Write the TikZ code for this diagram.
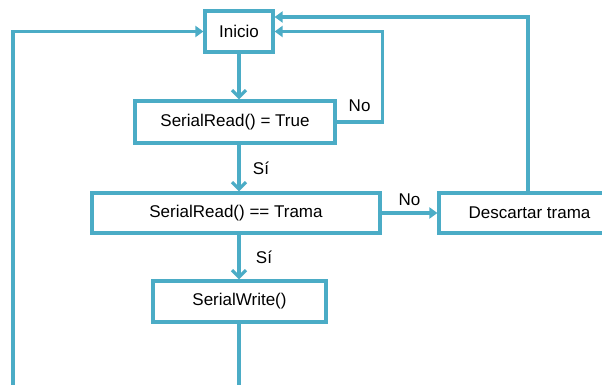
\documentclass[tikz,border=0pt]{standalone}
\usepackage{fontspec}
\setmainfont{Liberation Sans}
\usetikzlibrary{arrows.meta}
\definecolor{flujo}{HTML}{4BACC6}

\begin{document}
\begin{tikzpicture}[x=1pt, y=-1pt, font=\fontsize{17}{20}\selectfont,
		caja/.style={draw=flujo, line width=3.2pt, rectangle, inner sep=0pt, fill=white},
		linea/.style={draw=flujo, line width=3.2pt}]
				\useasboundingbox (0,0) rectangle (602,385);
				\node[caja, minimum width=68pt, minimum height=41pt] (Ini)at(239, 31.5) {Inicio};
				\node[caja, minimum width=200pt, minimum height=42pt] (SRT)at(235, 122) {SerialRead() = True};
				\node[caja, minimum width=288pt, minimum height=40pt] (SRTr)at(236, 213) {SerialRead() == Trama};
				\node[caja, minimum width=181pt, minimum height=40pt] (Desc)at(529.5, 213) {Descartar trama};
				\node[caja, minimum width=173pt, minimum height=41pt] (SW)at(239.5, 301.5) {SerialWrite()};
				\coordinate (fin) at (239, 388);
				\coordinate (izq) at (13, 388);
				\draw[linea, -{Straight Barb[length=7pt, width=14pt]}] (Ini.south) -- (Ini.south |- SRT.north);
				\draw[linea, -{Straight Barb[length=7pt, width=14pt]}] (Ini.south |- SRT.south) -- (Ini.south |- SRTr.north) node[midway, right=9pt, black] {Sí};
				\draw[linea, -{Straight Barb[length=7pt, width=14pt]}] (Ini.south |- SRTr.south) -- (Ini.south |- SW.north) node[midway, right=12pt, black] {Sí};
				\draw[linea, -{Triangle[length=8pt, width=11pt]}] (SRTr) -- (Desc) node[midway, above=2pt, black] {No};
				\draw[linea, -{Triangle[length=8pt, width=11pt]}] (SRT.east) -- ++(46,0) node[pos=0.5, above=5pt, black] {No} |- (Ini.east);
				\draw[linea, -{Triangle[length=8pt, width=11pt]}] (Desc.north -| 528,0) |- ([yshift=14.5pt]Ini.east);
				\draw[linea] (Ini.south |- SW.south) -- (fin);
				\draw[linea, -{Triangle[length=8pt, width=11pt]}] (izq) |- (Ini.west);
			\end{tikzpicture}
\end{document}
